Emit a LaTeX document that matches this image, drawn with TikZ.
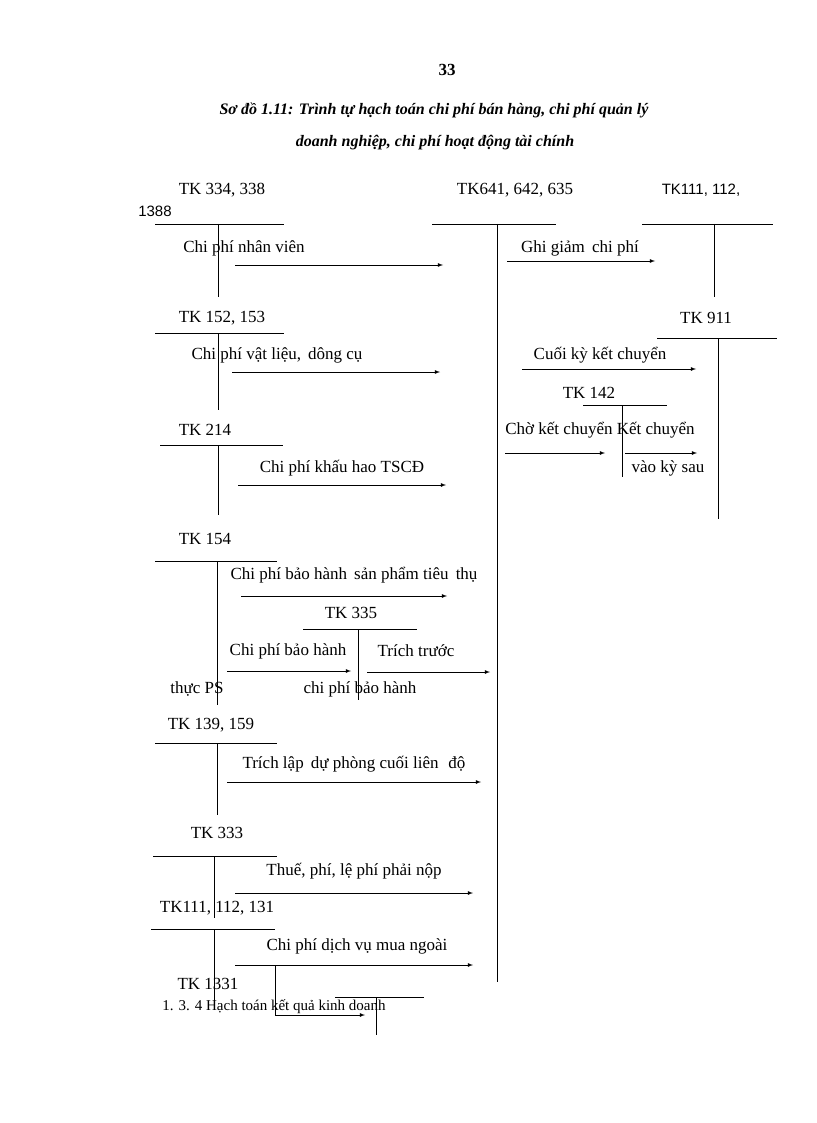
\documentclass[tikz,border=0pt]{standalone}
\usepackage{fontspec}
\setmainfont{Liberation Serif}
\newfontfamily\arialf{Liberation Sans}
\begin{document}
\begin{tikzpicture}[x=1pt,y=-1pt,
  lbl/.style={inner sep=0pt,font=\fontsize{17}{19}\selectfont},
  sl/.style={inner sep=0pt,font=\arialf\fontsize{15}{17}\selectfont},
  ln/.style={line width=0.8pt},
  ar/.style={line width=0.8pt,-latex}]
\useasboundingbox (0,0) rectangle (816,1123);
\node[lbl,font=\bfseries\fontsize{17}{19}\selectfont] (pg) at (447,70) {33};
\node[lbl,font=\bfseries\itshape\fontsize{16}{18}\selectfont] (t1) at (434,110) {Sơ đồ 1.11: Trình tự hạch toán chi phí bán hàng, chi phí quản lý};
\node[lbl,font=\bfseries\itshape\fontsize{16}{18}\selectfont] (t2) at (435,143) {doanh nghiệp, chi phí hoạt động tài chính};
% TK 334
\node[lbl] (a1) at (222,190) {TK 334, 338};
\node[sl] (a1b) at (155,211) {1388};
\coordinate (a1l) at (155,224); \coordinate (a1r) at (284,224);
\coordinate (a1t) at (218,224); \coordinate (a1e) at (218,297);
\draw[ln] (a1l)--(a1r) (a1t)--(a1e);
\node[lbl] (l1) at (244,248) {Chi phí nhân viên};
\coordinate (s1) at (235,265); \coordinate (e1) at (443,265);
\draw[ar] (s1)--(e1);
% TK641
\node[lbl] (m) at (515,190) {TK641, 642, 635};
\coordinate (ml) at (432,224); \coordinate (mr) at (556,224);
\coordinate (mt) at (497,224); \coordinate (me) at (497,982);
\draw[ln] (ml)--(mr) (mt)--(me);
% TK111 right
\node[sl] (r1) at (701,190) {TK111, 112,};
\coordinate (r1l) at (642,224); \coordinate (r1r) at (773,224);
\coordinate (r1t) at (714,224); \coordinate (r1e) at (714,297);
\draw[ln] (r1l)--(r1r) (r1t)--(r1e);
\node[lbl] (lg) at (580,248) {Ghi giảm\, chi phí};
\coordinate (sg) at (507,261); \coordinate (eg) at (655,261);
\draw[ar] (sg)--(eg);
% TK 152
\node[lbl] (a2) at (222,318) {TK 152, 153};
\coordinate (a2l) at (155,333); \coordinate (a2r) at (284,333);
\coordinate (a2t) at (218,333); \coordinate (a2e) at (218,410);
\draw[ln] (a2l)--(a2r) (a2t)--(a2e);
\node[lbl] (l2) at (277,355) {Chi phí vật liệu,\, dông cụ};
\coordinate (s2) at (232,372); \coordinate (e2) at (440,372);
\draw[ar] (s2)--(e2);
% TK 911
\node[lbl] (k) at (706,318) {TK 911};
\coordinate (kl) at (657,338); \coordinate (kr) at (777,338);
\coordinate (kt) at (718,338); \coordinate (ke) at (718,519);
\draw[ln] (kl)--(kr) (kt)--(ke);
\node[lbl] (lk) at (600,355) {Cuối kỳ kết chuyển};
\coordinate (sk) at (522,369); \coordinate (ek) at (696,369);
\draw[ar] (sk)--(ek);
% TK 142
\node[lbl] (p) at (589,393) {TK 142};
\coordinate (pl) at (583,405); \coordinate (pr) at (667,405);
\coordinate (pt) at (622,405); \coordinate (pe) at (622,477);
\draw[ln] (pl)--(pr) (pt)--(pe);
\node[lbl] (lp) at (600,430) {Chờ kết chuyển Kết chuyển};
\coordinate (sp1) at (505,453); \coordinate (ep1) at (605,453);
\coordinate (sp2) at (625,453); \coordinate (ep2) at (697,453);
\draw[ar] (sp1)--(ep1); \draw[ar] (sp2)--(ep2);
\node[lbl] (lp2) at (668,468) {vào kỳ sau};
% TK 214
\node[lbl] (a3) at (205,430) {TK 214};
\coordinate (a3l) at (160,445); \coordinate (a3r) at (283,445);
\coordinate (a3t) at (218,445); \coordinate (a3e) at (218,515);
\draw[ln] (a3l)--(a3r) (a3t)--(a3e);
\node[lbl] (l3) at (342,468) {Chi phí khấu hao TSCĐ};
\coordinate (s3) at (238,485); \coordinate (e3) at (446,485);
\draw[ar] (s3)--(e3);
% TK 154
\node[lbl] (a4) at (205,539) {TK 154};
\coordinate (a4l) at (155,561); \coordinate (a4r) at (277,561);
\coordinate (a4t) at (217,561); \coordinate (a4e) at (217,705);
\draw[ln] (a4l)--(a4r) (a4t)--(a4e);
\node[lbl] (l4) at (354,575) {Chi phí bảo hành\, sản phẩm tiêu\, thụ};
\coordinate (s4) at (241,596); \coordinate (e4) at (447,596);
\draw[ar] (s4)--(e4);
% TK 335
\node[lbl] (q) at (351,613) {TK 335};
\coordinate (ql) at (303,629); \coordinate (qr) at (417,629);
\coordinate (qt) at (358,629); \coordinate (qe) at (358,700);
\draw[ln] (ql)--(qr) (qt)--(qe);
\node[lbl] (lq1) at (288,651) {Chi phí bảo hành};
\coordinate (sq1) at (227,671); \coordinate (eq1) at (351,671);
\draw[ar] (sq1)--(eq1);
\node[lbl] (lq2) at (416,651) {Trích trước};
\coordinate (sq2) at (367,672); \coordinate (eq2) at (490,672);
\draw[ar] (sq2)--(eq2);
\node[lbl] (lq3) at (197,689) {thực PS};
\node[lbl] (lq4) at (360,689) {chi phí bảo hành};
% TK 139
\node[lbl] (a5) at (211,725) {TK 139, 159};
\coordinate (a5l) at (155,743); \coordinate (a5r) at (277,743);
\coordinate (a5t) at (217,743); \coordinate (a5e) at (217,815);
\draw[ln] (a5l)--(a5r) (a5t)--(a5e);
\node[lbl] (l5) at (354,764) {Trích lập\, dự phòng cuối liên\,\, độ};
\coordinate (s5) at (227,782); \coordinate (e5) at (481,782);
\draw[ar] (s5)--(e5);
% TK 333
\node[lbl] (a6) at (217,833) {TK 333};
\coordinate (a6l) at (153,856); \coordinate (a6r) at (277,856);
\coordinate (a6t) at (214,856); \coordinate (a6e) at (214,918);
\draw[ln] (a6l)--(a6r) (a6t)--(a6e);
\node[lbl] (l6) at (354,871) {Thuế, phí, lệ phí phải nộp};
\coordinate (s6) at (235,893); \coordinate (e6) at (473,893);
\draw[ar] (s6)--(e6);
% TK111,112,131
\node[lbl] (a7) at (217,908) {TK111, 112, 131};
\coordinate (a7l) at (151,929); \coordinate (a7r) at (275,929);
\coordinate (a7t) at (214,929); \coordinate (a7e) at (214,1010);
\draw[ln] (a7l)--(a7r) (a7t)--(a7e);
\node[lbl] (l7) at (357,946) {Chi phí dịch vụ mua ngoài};
\coordinate (s7) at (235,965); \coordinate (e7) at (473,965);
\draw[ar] (s7)--(e7);
% TK 1331
\node[lbl] (a8) at (208,984) {TK 1331};
\coordinate (bt) at (275,965); \coordinate (bb) at (275,1015);
\coordinate (be) at (365,1015);
\draw[ln] (bt)--(bb); \draw[ar] (bb)--(be);
\coordinate (cl) at (335,997); \coordinate (cr) at (424,997);
\coordinate (ct) at (376,997); \coordinate (ce) at (376,1035);
\draw[ln] (cl)--(cr) (ct)--(ce);
\node[lbl,font=\fontsize{15}{17}\selectfont] (h) at (274,1007) {1. 3. 4 Hạch toán kết quả kinh doanh};
\end{tikzpicture}
\end{document}
